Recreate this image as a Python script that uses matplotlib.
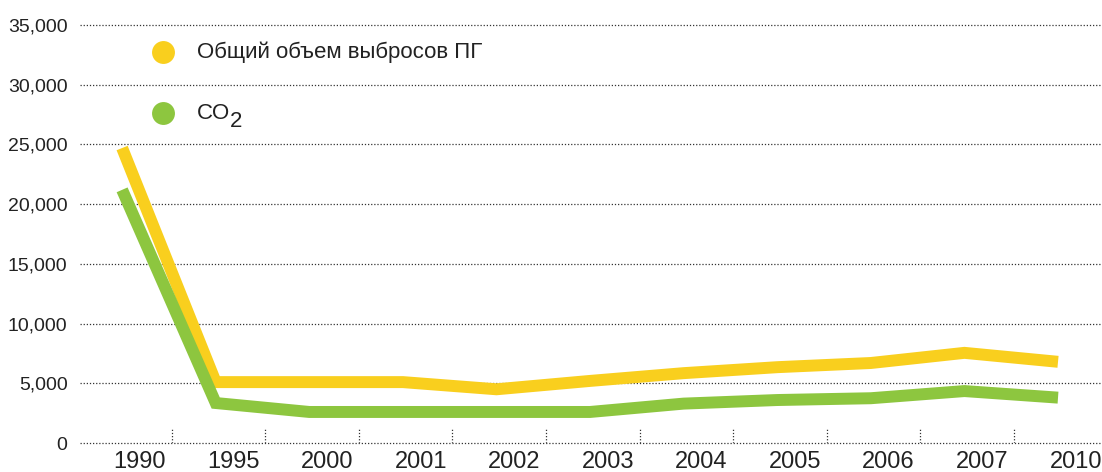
import matplotlib.pyplot as plt

plt.rcParams['font.family'] = ['Liberation Sans', 'DejaVu Sans']

years = ["1990", "1995", "2000", "2001", "2002", "2003", "2004", "2005", "2006", "2007", "2010"]
total_ghg = [24700, 5100, 5100, 5100, 4500, 5200, 5850, 6350, 6700, 7550, 6800]
co2 = [21200, 3350, 2600, 2600, 2600, 2600, 3300, 3600, 3750, 4350, 3800]
yticks = [0, 5000, 10000, 15000, 20000, 25000, 30000, 35000]
legend_labels = ["Общий объем выбросов ПГ", "CO"]

yellow = "#F9CF1E"
green = "#8DC63F"

fig = plt.figure(figsize=(11.02, 4.72), dpi=100)
ax = fig.add_axes([0.0726, 0.0614, 0.9274, 0.8856])

x = list(range(len(years)))
ax.plot(x, total_ghg, color=yellow, lw=8.6, solid_joinstyle="miter", solid_capstyle="butt", zorder=3)
ax.plot(x, co2, color=green, lw=8.6, solid_joinstyle="miter", solid_capstyle="butt", zorder=3)

ax.set_ylim(0, 35000)
ax.set_xlim(-0.45, 10.47)

# dotted horizontal grid
for v in yticks:
    ax.axhline(v, color="#333333", lw=0.9, ls=(0, (1, 1.5)), zorder=1, clip_on=False)
ax.set_yticks(yticks)
ax.set_yticklabels([f"{v:,}" for v in yticks], fontsize=14, color="#222222")

# year labels sit a bit right of the points, little dotted ticks between them
ax.set_xticks([i + 0.19 for i in x])
ax.set_xticklabels(years, fontsize=17, color="#222222")
ax.tick_params(length=0, pad=6)
ax.tick_params(axis="y", pad=9)
ax.vlines([i + 0.53 for i in x[:-1]], 0, 1250, color="#333333", lw=0.9,
          linestyles=(0, (1, 1.5)), zorder=1)

for s in ax.spines.values():
    s.set_visible(False)

# legend drawn by hand
for (yy, c, lab) in zip([0.935, 0.789], [yellow, green], legend_labels):
    ax.scatter([0.0812], [yy], s=272, color=c, transform=ax.transAxes, clip_on=False, lw=0)
    t = ax.text(0.1145, yy, lab, transform=ax.transAxes, fontsize=16, va="center", color="#222222")
ax.annotate("2", xy=(0.99, 0.6), xycoords=t, fontsize=16, va="top", ha="left", color="#222222")

fig.savefig("out.png", dpi=100)
